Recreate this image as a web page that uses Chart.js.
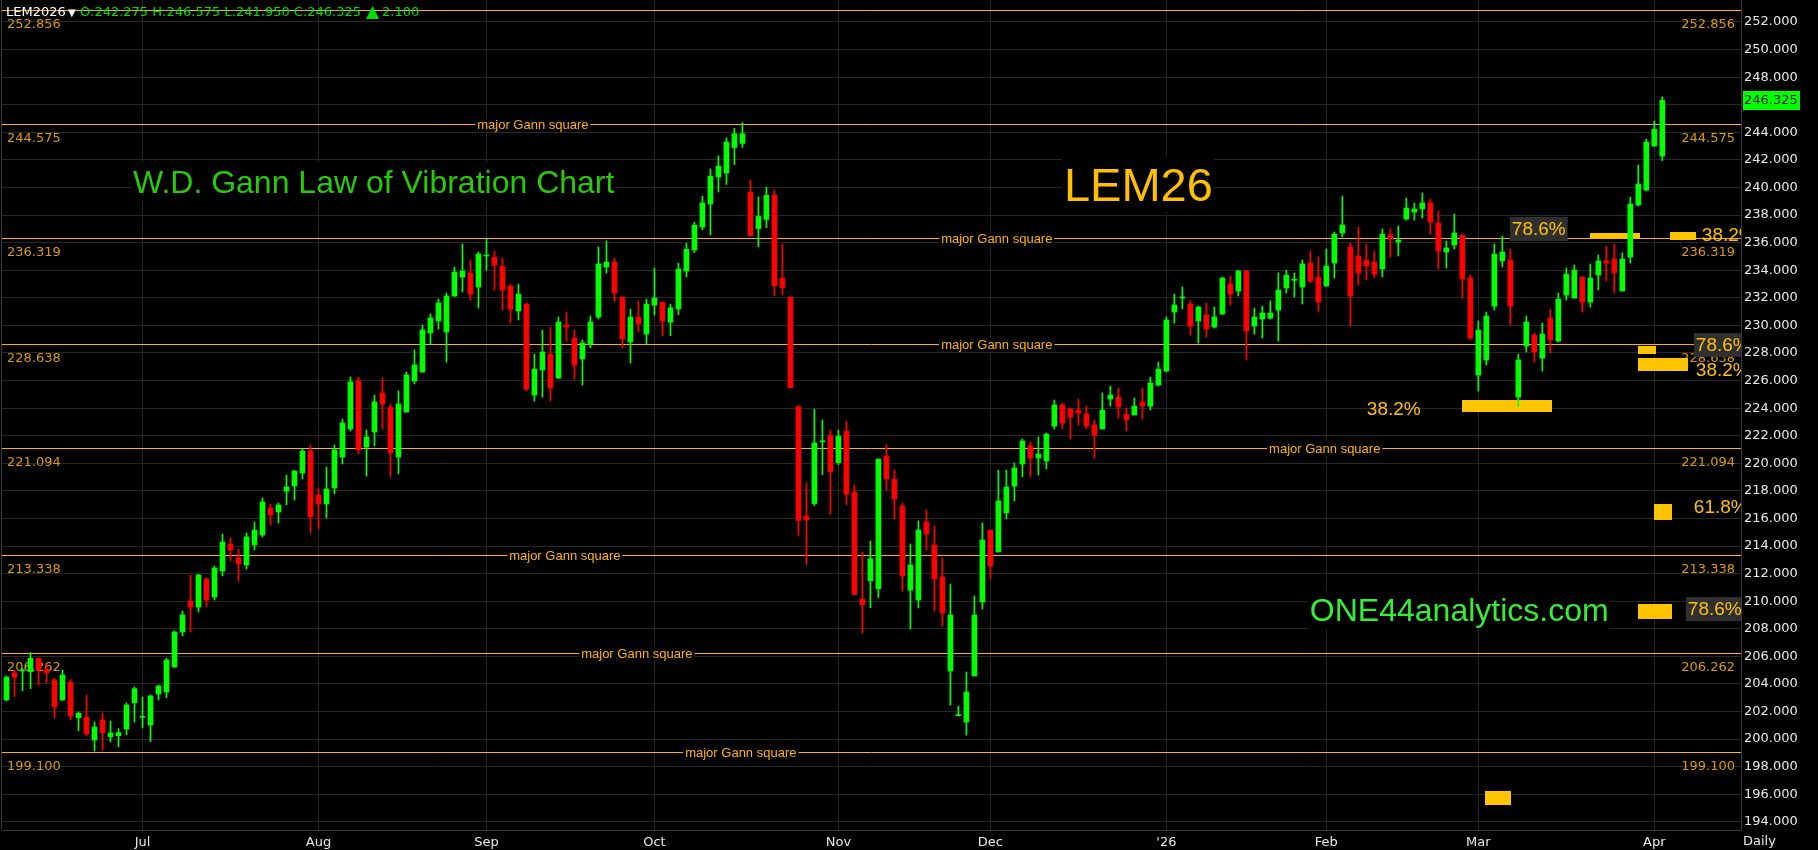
<!DOCTYPE html>
<html><head><meta charset="utf-8">
<script src="https://cdn.jsdelivr.net/npm/chart.js@4.4.1/dist/chart.umd.min.js"></script>
<style>html,body{margin:0;padding:0;background:#000;overflow:hidden}canvas{display:block}</style>
</head><body>
<canvas id="c" width="1818" height="850"></canvas>
<script>
// ---------- data ----------
const opens = [202.84,204.79,204.95,204.89,205.86,205.04,204.29,202.84,204.14,201.55,
201.60,199.93,201.39,200.18,200.25,200.73,202.64,201.58,201.02,203.27,
203.42,205.23,207.77,210.01,209.58,211.61,210.30,212.19,214.15,213.13,
212.63,214.08,214.80,216.76,216.47,217.99,218.36,219.30,220.89,217.70,
217.05,218.21,220.46,222.49,225.97,221.18,222.27,225.10,224.08,220.46,
223.72,225.97,226.62,229.45,230.32,229.52,232.13,233.50,233.79,232.78,
235.03,234.95,234.30,232.85,231.04,231.55,224.95,226.76,227.92,226.18,
230.02,229.08,227.56,228.65,230.60,234.23,234.59,232.05,228.79,230.60,
229.37,231.47,231.69,230.23,231.19,233.94,235.47,237.13,238.80,240.76,
241.04,242.90,243.20,239.64,237.02,237.68,239.43,233.42,232.06,224.09,
216.18,217.08,221.56,222.02,220.05,222.34,217.92,210.15,211.49,210.91,
220.52,218.85,216.90,210.81,210.09,215.74,214.07,211.75,204.94,201.70,
201.24,204.58,209.94,215.16,213.57,216.40,218.35,219.95,221.25,220.38,
220.17,222.70,224.23,223.94,223.86,223.57,222.78,222.49,224.66,224.81,
223.57,223.50,224.44,224.15,225.67,226.69,230.97,231.99,231.55,230.32,
230.75,229.88,230.82,233.00,232.49,233.94,229.95,230.46,230.53,231.11,
232.71,233.27,232.78,234.52,233.51,232.85,234.52,236.70,235.68,235.03,
234.74,234.59,234.09,236.55,236.04,237.71,238.22,238.44,238.87,237.42,
235.32,235.83,236.55,233.43,226.40,227.49,231.40,234.67,234.74,224.80,
228.50,229.30,227.63,230.53,228.86,232.20,231.98,233.51,231.69,233.65,
234.67,234.81,232.49,234.95,238.73,239.81,243.00,242.275];
const highs = [204.58,205.01,205.10,206.27,205.90,205.37,204.41,205.01,204.33,201.97,
203.20,201.24,201.89,201.31,200.76,202.62,203.78,203.05,203.20,203.92,
205.86,207.84,209.29,211.90,211.97,211.68,212.55,214.87,214.58,213.79,
214.95,215.75,217.49,217.05,217.12,219.15,219.50,221.04,221.33,218.21,
219.73,221.33,223.21,226.26,226.26,222.42,224.95,226.19,224.30,225.24,
226.62,228.22,230.03,230.83,231.92,232.34,234.23,235.90,234.74,235.32,
236.26,235.39,234.88,233.00,233.00,231.62,227.92,229.66,229.88,230.60,
230.97,229.66,228.94,230.68,235.68,236.12,234.88,232.05,231.18,231.76,
231.91,234.16,231.70,231.54,234.51,235.96,237.49,239.37,241.34,242.30,
243.60,244.30,244.70,240.52,239.32,240.03,239.81,235.91,232.06,224.23,
218.58,223.93,223.14,222.40,222.40,223.05,218.42,213.56,214.35,220.30,
221.34,219.51,217.10,214.15,215.82,216.61,215.45,213.13,211.25,202.40,
204.87,210.38,215.67,215.16,219.51,219.51,220.02,221.76,221.54,221.91,
222.20,224.59,224.37,224.01,224.66,224.15,223.14,225.10,225.60,225.46,
224.01,224.73,225.46,226.25,227.34,230.61,232.27,232.78,231.77,231.40,
231.62,231.33,233.50,233.58,234.01,234.01,231.26,231.40,231.77,233.80,
234.01,233.80,234.74,235.39,234.96,235.54,236.77,239.38,235.97,237.13,
235.90,235.39,236.99,236.99,237.21,239.23,238.87,239.60,239.16,238.29,
236.12,238.07,236.55,233.65,230.32,230.97,235.90,236.48,235.54,227.92,
230.68,229.45,230.17,231.18,232.34,234.16,234.38,233.51,234.45,235.10,
235.75,235.90,235.25,239.30,241.63,243.51,244.82,246.575];
const lows = [202.76,203.08,203.51,203.66,203.92,204.09,201.51,202.80,201.39,200.61,
200.23,199.14,199.21,199.79,199.45,200.32,201.24,200.81,199.81,202.84,
203.00,205.20,207.48,207.77,209.22,209.58,210.09,211.83,212.92,211.47,
212.34,213.71,214.66,215.53,215.67,216.98,217.34,218.86,214.95,215.24,
216.04,217.78,219.95,222.34,220.68,219.08,221.26,222.49,219.01,219.23,
223.70,225.75,226.60,228.65,229.74,227.34,232.10,232.42,231.84,231.26,
234.01,232.56,231.11,230.17,230.39,225.24,224.51,224.80,224.51,226.15,
228.86,226.11,225.67,228.36,230.46,233.79,231.76,228.36,227.27,229.52,
228.65,230.75,229.23,229.25,230.78,233.50,235.28,236.92,236.56,239.67,
240.22,241.66,242.90,236.50,235.71,237.08,232.17,232.22,225.48,214.76,
212.66,216.94,219.18,216.29,219.89,217.00,210.48,207.69,209.52,210.26,
218.06,215.99,210.74,207.98,209.51,213.71,209.29,208.20,202.47,201.68,
200.30,204.58,209.43,211.61,213.57,215.96,217.27,219.01,219.01,219.15,
219.59,222.49,222.49,221.76,222.78,222.49,220.38,222.49,224.15,223.28,
222.34,223.50,223.21,223.86,225.60,226.62,230.17,231.19,229.30,228.72,
229.15,229.81,230.80,231.48,232.13,227.49,229.37,229.08,230.46,228.86,
232.35,232.06,231.55,233.07,231.04,232.85,233.43,236.41,229.95,232.93,
233.29,233.43,233.51,234.96,235.03,237.64,237.64,237.78,236.62,234.09,
234.16,235.54,231.98,228.94,225.24,227.12,231.11,234.23,230.03,224.15,
228.07,227.34,226.69,228.00,228.79,231.84,231.98,230.97,231.33,232.56,
233.22,232.35,232.49,234.52,238.65,239.74,243.00,241.95];
const closes = [204.50,204.50,205.02,205.86,205.01,204.82,202.35,204.65,201.68,201.87,
200.37,200.88,200.47,200.44,200.47,202.47,203.66,201.62,203.13,203.85,
205.74,207.77,209.00,209.58,211.90,210.09,212.41,214.29,213.71,212.70,
214.66,215.16,217.20,216.25,216.98,218.28,219.44,220.89,216.11,217.05,
218.14,220.97,222.92,225.90,220.97,221.91,224.45,224.30,220.75,224.30,
226.41,227.13,229.67,230.54,231.63,232.13,233.87,233.94,232.27,235.17,
235.07,234.37,232.56,231.18,232.27,225.38,226.83,228.07,225.46,230.24,
229.88,227.12,228.72,230.24,234.45,234.59,232.34,229.01,230.60,230.10,
231.55,231.98,230.31,231.27,234.08,235.52,237.27,238.88,240.82,241.55,
243.30,243.90,243.90,236.51,237.90,239.43,232.88,232.74,225.48,215.85,
215.91,221.47,221.60,219.40,221.96,217.76,210.48,209.74,213.07,220.30,
218.88,217.41,211.83,212.62,215.16,214.87,211.61,209.14,209.00,201.74,
203.41,209.00,214.44,212.55,217.27,218.28,219.66,221.62,220.38,220.67,
222.12,224.23,222.92,223.36,223.65,222.70,222.05,223.86,224.95,224.08,
223.14,224.15,224.15,225.82,226.83,230.39,231.48,232.05,229.95,231.33,
229.74,230.61,233.43,232.27,233.94,229.59,230.61,230.90,230.90,232.56,
233.65,233.31,234.45,233.22,231.69,234.30,236.62,237.28,232.13,233.80,
234.30,233.72,236.62,236.26,236.19,238.51,238.44,238.87,237.49,235.39,
235.61,236.70,233.36,229.08,229.66,230.68,235.17,235.32,231.40,227.49,
230.24,228.07,229.37,228.94,231.91,233.72,234.01,231.69,233.43,234.67,
234.52,233.80,234.81,238.80,240.25,243.29,244.225,246.325];

const monthStart  = [17, 39, 60, 81, 104, 123, 145, 165, 184, 206];
const monthLabels = ['Jul','Aug','Sep','Oct','Nov','Dec',"'26",'Feb','Mar','Apr'];
const yTicks = [194,196,198,200,202,204,206,208,210,212,214,216,218,220,222,224,226,228,230,232,234,236,238,240,242,244,246,248,250,252];

// Gann levels and where their "major Gann square" tag sits (candle index)
const gannLevels = [252.856, 244.575, 236.319, 228.638, 221.094, 213.338, 206.262, 199.100];
const gannTagAt  = [null, 65.8, 123.8, 123.8, 164.8, 69.8, 78.8, 91.8];

// Fibonacci blocks: [index from, index to, price low, price high]
const fibBlocks = [
  [207.94, 211.19, 236.19, 236.77],
  [197.94, 204.19, 236.31, 236.70],
  [203.94, 206.19, 227.92, 228.50],
  [203.94, 210.19, 226.71, 227.61],
  [205.94, 208.19, 215.91, 217.05],
  [203.94, 208.19, 208.73, 209.80],
  [181.94, 193.19, 223.74, 224.59],
  [184.81, 188.06, 195.22, 196.23]
];
// Fibonacci labels: [text, index (left), price (centre), boxed]
const fibLabels = [
  ['38.2%', 211.94, 236.55, false],
  ['78.6%', 211.19, 228.58, true],
  ['38.2%', 211.19, 226.76, false],
  ['61.8%', 210.94, 216.85, false],
  ['78.6%', 210.19, 209.43, true],
  ['38.2%', 170.06, 223.94, false],
  ['78.6%', 188.19, 236.99, true]
];
// Big captions: [text, index (left), price (baseline), size, colour]
const captions = [
  ['W.D. Gann Law of Vibration Chart', 15.81, 239.62, 32, '#2cc80c'],
  ['LEM26', 132.19, 239.02, 47, '#ffc000'],
  ['ONE44analytics.com', 162.94, 208.53, 32, '#36ee36']
];

// ---------- build ----------
const UP = '#00ff00', DN = '#ff0000';
const idx = opens.map((_, i) => i);
const colors = idx.map(i => closes[i] >= opens[i] ? UP : DN);
const wickData = idx.map(i => ({x: i, y: [lows[i], highs[i]]}));
const bodyData = idx.map(i => ({x: i, y: [opens[i], closes[i]]}));

const GANN = '#ffb400', GANN_TXT = '#d99a08', GRID = '#262626', BORDER = '#3a3a3a';

const overlay = {
  id: 'overlay',
  beforeDatasetsDraw(chart) {
    const {ctx, chartArea: a, scales: {x, y}} = chart;
    ctx.save();
    ctx.beginPath(); ctx.rect(a.left - 2, a.top, a.right - a.left + 2, a.bottom - a.top); ctx.clip();
    ctx.strokeStyle = BORDER; ctx.lineWidth = 1;
    ctx.beginPath(); ctx.moveTo(1.5, a.top); ctx.lineTo(1.5, a.bottom); ctx.stroke();
    ctx.beginPath(); ctx.rect(a.left, a.top, a.right - a.left, a.bottom - a.top); ctx.clip();
    gannLevels.forEach((lv, k) => {
      const py = Math.round(y.getPixelForValue(lv)) + 0.5;
      ctx.strokeStyle = GANN; ctx.lineWidth = 1;
      ctx.beginPath(); ctx.moveTo(a.left, py); ctx.lineTo(a.right, py); ctx.stroke();
      ctx.font = '13px "DejaVu Sans"'; ctx.fillStyle = GANN_TXT; ctx.textBaseline = 'middle';
      ctx.textAlign = 'left'; ctx.fillText(lv.toFixed(3), a.left + 5, py + 14);
      ctx.textAlign = 'right'; ctx.fillText(lv.toFixed(3), a.right - 6, py + 14);
      if (gannTagAt[k] != null) {
        const cx = x.getPixelForValue(gannTagAt[k]);
        ctx.font = '13px "Liberation Sans", Arial, sans-serif';
        const w = ctx.measureText('major Gann square').width;
        ctx.fillStyle = '#000';
        ctx.fillRect(cx - w / 2 - 2, py - 7, w + 4, 14);
        ctx.fillStyle = GANN; ctx.textAlign = 'center';
        ctx.fillText('major Gann square', cx, py + 0.5);
      }
    });
    captions.forEach(([t, xi, pv, sz, col]) => {
      const px = x.getPixelForValue(xi), py = y.getPixelForValue(pv);
      ctx.font = sz + 'px "Liberation Sans", Arial, sans-serif';
      const w = ctx.measureText(t).width;
      ctx.fillStyle = '#000';
      ctx.fillRect(px - 2, py - sz * 0.95, w + 3, sz * 1.18);
      ctx.fillStyle = col; ctx.textAlign = 'left'; ctx.textBaseline = 'alphabetic';
      ctx.fillText(t, px, py);
    });
    ctx.fillStyle = '#ffc400';
    fibBlocks.forEach(([x0, x1, p0, p1]) => {
      const L = Math.round(x.getPixelForValue(x0)), R = Math.round(x.getPixelForValue(x1));
      const T = Math.round(y.getPixelForValue(p1)), B = Math.round(y.getPixelForValue(p0));
      ctx.fillRect(L, T, R - L, B - T);
    });
    ctx.font = '19px "Liberation Sans", Arial, sans-serif';
    ctx.textBaseline = 'middle'; ctx.textAlign = 'left';
    fibLabels.forEach(([t, xi, pv, boxed]) => {
      const px = x.getPixelForValue(xi), py = y.getPixelForValue(pv);
      const w = ctx.measureText(t).width;
      if (boxed) { ctx.fillStyle = '#2f2f2f'; ctx.fillRect(px - 2, py - 12, w + 4, 24); }
      ctx.fillStyle = '#ffc000';
      ctx.fillText(t, px, py + 1);
    });
    ctx.restore();
  },
  afterDraw(chart) {
    const {ctx, chartArea: a, scales: {y}} = chart;
    ctx.save();
    ctx.textBaseline = 'middle'; ctx.textAlign = 'left';
    ctx.font = '13px "DejaVu Sans"';
    ctx.fillStyle = '#ffffff';
    ctx.fillText('LEM2026', 6, 13);
    ctx.font = '10px "DejaVu Sans"';
    ctx.fillText('\u25BC', 68, 13);
    ctx.font = '13px "DejaVu Sans"';
    ctx.fillStyle = '#00e000';
    const last = opens.length - 1;
    const hdr = 'O:' + opens[last].toFixed(3) + ' H:' + highs[last].toFixed(3) + ' L:' + lows[last].toFixed(3) + ' C:' + closes[last].toFixed(3);
    ctx.fillText(hdr, 80, 13);
    const hw = ctx.measureText(hdr).width;
    const tx = 80 + hw + 5;
    ctx.beginPath(); ctx.moveTo(tx, 19); ctx.lineTo(tx + 13, 19); ctx.lineTo(tx + 6.5, 6); ctx.closePath(); ctx.fill();
    ctx.fillText((closes[last] - closes[last - 1]).toFixed(3), tx + 16, 13);
    const py = y.getPixelForValue(closes[last]);
    ctx.fillStyle = '#00ff00';
    ctx.fillRect(a.right + 2, Math.round(py) - 9, 57, 19);
    ctx.fillStyle = '#1a1a1a';
    ctx.fillText(closes[last].toFixed(3), a.right + 3, Math.round(py) + 1);
    ctx.fillStyle = '#e8e8e8';
    ctx.fillText('Daily', a.right + 2, 842);
    ctx.restore();
  }
};

Chart.defaults.font.family = 'DejaVu Sans';
new Chart(document.getElementById('c'), {
  type: 'bar',
  data: {
    datasets: [
      {data: wickData, backgroundColor: colors, barThickness: 1, grouped: false, borderWidth: 0, order: 2},
      {data: bodyData, backgroundColor: colors, barThickness: 5, grouped: false, borderWidth: 0, minBarLength: 1, order: 1}
    ]
  },
  options: {
    responsive: false, animation: false, devicePixelRatio: 1,
    layout: {padding: {left: 2, right: 0, top: 0, bottom: 0}},
    plugins: {legend: {display: false}, tooltip: {enabled: false}},
    scales: {
      x: {
        type: 'linear', min: -0.5625, max: 216.8375, offset: false,
        grid: {color: GRID, offset: false, drawTicks: false},
        border: {color: BORDER},
        afterBuildTicks: s => { s.ticks = monthStart.map(v => ({value: v})); },
        afterFit: s => { s.height = 20; s.paddingLeft = 0; s.paddingRight = 0; },
        ticks: {
          autoSkip: false, maxRotation: 0, padding: 5, color: '#e8e8e8',
          font: {family: 'DejaVu Sans', size: 13},
          callback: v => { const k = monthStart.indexOf(v); return k >= 0 ? monthLabels[k] : ''; }
        }
      },
      y: {
        position: 'right', min: 193.41, max: 253.595,
        grid: {color: GRID, drawTicks: false},
        border: {color: BORDER},
        afterBuildTicks: s => { s.ticks = yTicks.map(v => ({value: v})); },
        afterFit: s => { s.width = 77; s.paddingTop = 0; s.paddingBottom = 0; },
        ticks: {
          padding: 3, color: '#e8e8e8', font: {family: 'DejaVu Sans', size: 13},
          callback: v => Number(v).toFixed(3)
        }
      }
    }
  },
  plugins: [overlay]
});
</script>
</body></html>
